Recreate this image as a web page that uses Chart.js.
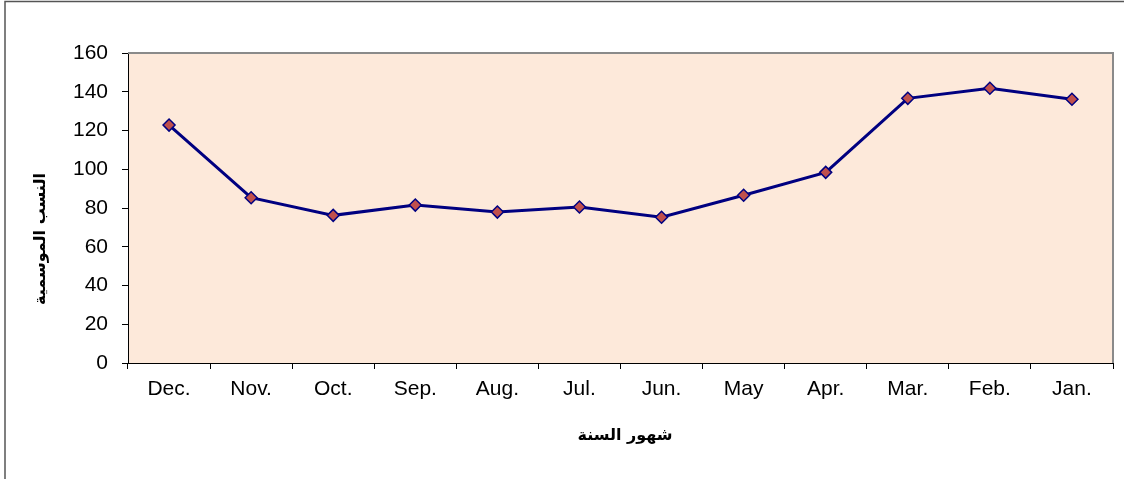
<!DOCTYPE html>
<html>
<head>
<meta charset="utf-8">
<script src="https://cdn.jsdelivr.net/npm/chart.js@4.4.1/dist/chart.umd.min.js"></script>
<style>
  html, body { margin: 0; padding: 0; background: #fff; }
  #wrap { width: 1124px; height: 479px; position: relative; }
</style>
</head>
<body>
<div id="wrap"><canvas id="chart" width="1124" height="479"></canvas></div>
<script>
const months = ['Dec.', 'Nov.', 'Oct.', 'Sep.', 'Aug.', 'Jul.', 'Jun.', 'May', 'Apr.', 'Mar.', 'Feb.', 'Jan.'];
const seasonalIndex = [122.8, 85.3, 76.2, 81.5, 77.9, 80.5, 75.2, 86.6, 98.4, 136.6, 141.8, 136.1];
const yTicks = [0, 20, 40, 60, 80, 100, 120, 140, 160];

const xTitle = 'شهور السنة';
const yTitle = 'النسب الموسمية';

// background, plot frame and axis titles
const decor = {
    id: 'decor',
    beforeDraw(chart) {
        const { ctx, chartArea: a } = chart;
        ctx.save();
        ctx.fillStyle = '#fff';
        ctx.fillRect(0, 0, chart.width, chart.height);
        // outer frame (only left and top visible)
        ctx.strokeStyle = '#555';
        ctx.lineWidth = 1.5;
        ctx.beginPath();
        ctx.moveTo(5, chart.height);
        ctx.lineTo(5, 1.5);
        ctx.lineTo(chart.width, 1.5);
        ctx.stroke();
        ctx.fillStyle = '#fde9da';
        ctx.fillRect(a.left, a.top, a.right - a.left, a.bottom - a.top);
        ctx.restore();
    },
    afterDraw(chart) {
        const { ctx, chartArea: a } = chart;
        ctx.save();
        ctx.strokeStyle = '#8a8a8a';
        ctx.lineWidth = 2;
        ctx.beginPath();
        ctx.moveTo(a.left, a.top);
        ctx.lineTo(a.right, a.top);
        ctx.lineTo(a.right, a.bottom);
        ctx.stroke();

        ctx.fillStyle = '#000';
        ctx.font = 'bold 16px "DejaVu Sans", sans-serif';
        ctx.textAlign = 'center';
        ctx.textBaseline = 'middle';
        ctx.fillText(xTitle, 625, 436);

        ctx.translate(41, 239);
        ctx.rotate(-Math.PI / 2);
        ctx.fillText(yTitle, 0, 0);
        ctx.restore();
    }
};

new Chart(document.getElementById('chart'), {
    type: 'line',
    data: {
        labels: months,
        datasets: [{
            data: seasonalIndex,
            borderColor: '#000080',
            borderWidth: 3,
            pointStyle: 'rectRot',
            pointRadius: 6,
            pointBackgroundColor: '#c0504d',
            pointBorderColor: '#000080',
            pointBorderWidth: 1.5,
            tension: 0
        }]
    },
    options: {
        responsive: false,
        animation: false,
        layout: { padding: { top: 53, right: 11, left: 0, bottom: 0 } },
        plugins: { legend: { display: false }, tooltip: { enabled: false } },
        scales: {
            x: {
                offset: true,
                grid: { offset: true, drawOnChartArea: false, tickLength: 6, color: '#000' },
                border: { color: '#000', width: 1 },
                ticks: { color: '#000', font: { family: '"Liberation Sans", Arial', size: 21 }, padding: 8, maxRotation: 0 },
                afterFit: s => { s.height = 116; }
            },
            y: {
                min: 0,
                max: 160,
                afterBuildTicks: s => { s.ticks = yTicks.map(v => ({ value: v })); },
                grid: { drawOnChartArea: false, tickLength: 6, color: '#000' },
                border: { color: '#000', width: 1 },
                ticks: { color: '#000', font: { family: '"Liberation Sans", Arial', size: 21 }, padding: 14 },
                afterFit: s => { s.width = 128; }
            }
        }
    },
    plugins: [decor]
});
</script>
</body>
</html>
